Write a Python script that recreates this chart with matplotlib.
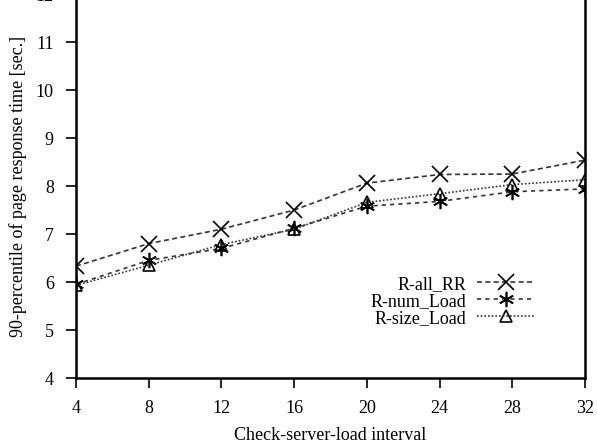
import numpy as np
import matplotlib.pyplot as plt

plt.rcParams['font.family'] = ['Liberation Serif', 'DejaVu Serif']

x = [4, 8, 12, 16, 20, 24, 28, 32]
all_rr = [6.33, 6.80, 7.10, 7.50, 8.06, 8.24, 8.25, 8.54]
num_load = [5.95, 6.45, 6.70, 7.12, 7.58, 7.68, 7.88, 7.94]
size_load = [5.93, 6.35, 6.78, 7.10, 7.66, 7.84, 8.03, 8.13]

fig = plt.figure(figsize=(5.97, 4.4), dpi=100)
ax = fig.add_axes([0.1273, 0.1409, 0.8527, 0.8727])

ax.plot(x, all_rr, color='#333333', ls=(0, (3, 2)), lw=1.2,
        marker='x', ms=11, mec='black', mew=1.2, label='R-all_RR')
ax.plot(x, num_load, color='#333333', ls=(0, (2.5, 2.5)), lw=1.2,
        marker=(6, 2, 0), ms=11, mec='black', mew=1.2, label='R-num_Load')
ax.plot(x, size_load, color='#333333', ls=(0, (1, 1.2)), lw=1.2,
        marker='^', ms=8, mfc='none', mec='black', mew=1.2, label='R-size_Load')

ax.set_xlim(4, 32)
ax.set_ylim(4, 12)
ax.set_xticks(x)
ax.set_yticks(range(4, 13))
ax.tick_params(labelsize=13, direction='out', length=7, width=1.2, top=False, right=False)
ax.tick_params(axis='y', pad=9)
ax.tick_params(axis='x', pad=9)
for s in ax.spines.values():
    s.set_linewidth(1.8)

ax.set_xlabel("Check-server-load interval", fontsize=13, labelpad=7)
ax.set_ylabel("90-percentile of page response time [sec.]", fontsize=13, labelpad=6)

ax.legend(loc='center', bbox_to_anchor=(0.74, 0.2), frameon=False, markerfirst=False,
          fontsize=13, handlelength=3.2, handletextpad=0.6, labelspacing=0.0)

fig.savefig("out.png")
